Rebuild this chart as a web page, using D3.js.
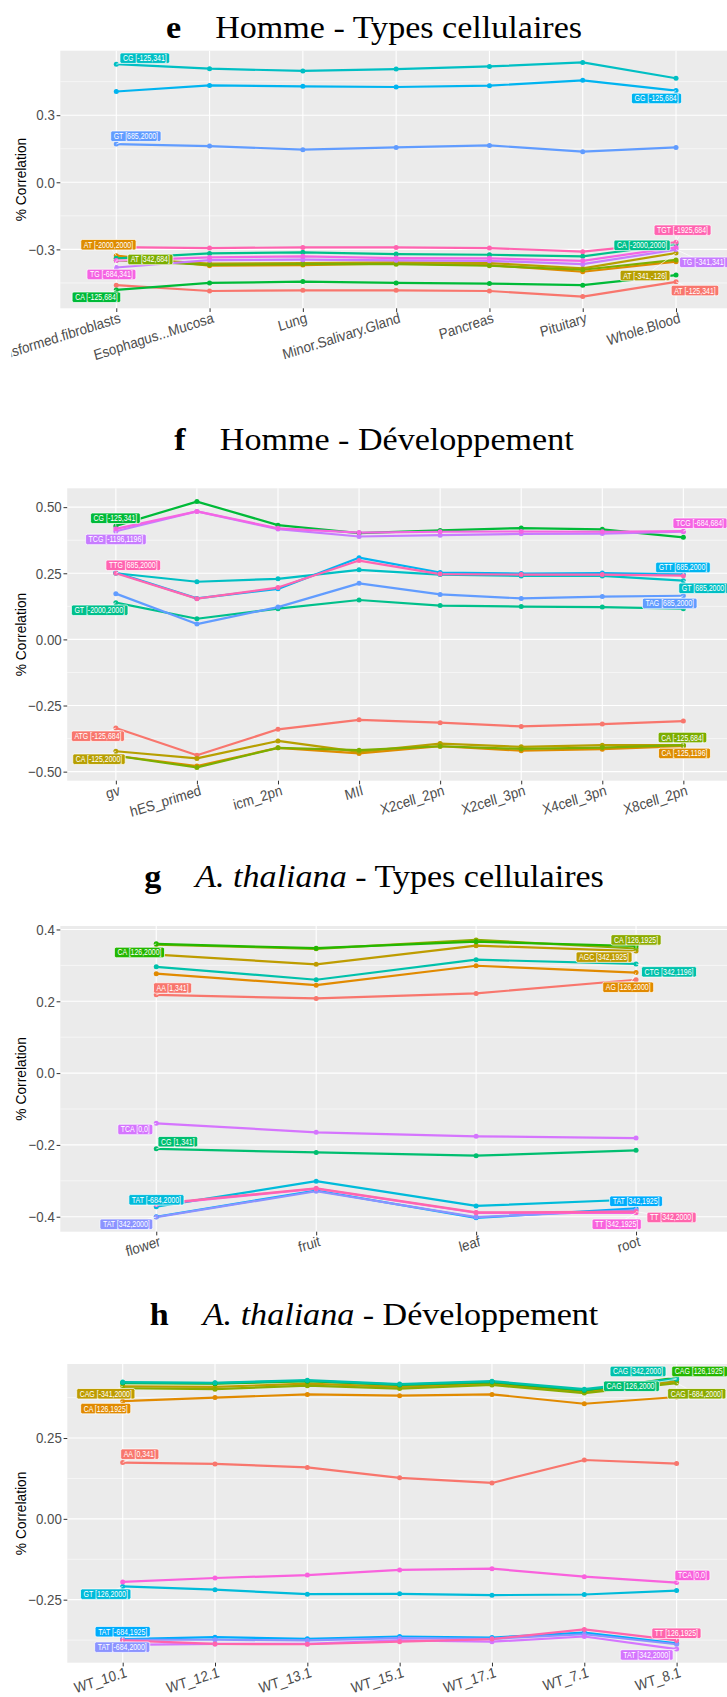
<!DOCTYPE html>
<html><head><meta charset="utf-8">
<script src="https://cdn.jsdelivr.net/npm/d3@7"></script>
<style>body{margin:0;background:#fff} svg{display:block} text{white-space:pre}</style>
</head><body><svg id="c" width="727" height="1697"></svg>
<script>
// ---------------- DATA ----------------
const eCategories = ["Cells...Transformed.fibroblasts","Esophagus...Mucosa","Lung","Minor.Salivary.Gland","Pancreas","Pituitary","Whole.Blood"];
const eSeries = ["AT [-125,341]","AT [-2000,2000]","AT [-341,-126]","AT [342,684]","CA [-125,684]","CA [-2000,2000]","CG [-125,341]","GG [-125,684]","GT [685,2000]","TG [-341,341]","TG [-684,341]","TGT [-1925,684]"];
const eValues = [
 [-0.460,-0.486,-0.483,-0.483,-0.486,-0.511,-0.445],
 [-0.328,-0.373,-0.370,-0.363,-0.370,-0.400,-0.355],
 [-0.340,-0.364,-0.361,-0.358,-0.361,-0.385,-0.316],
 [-0.348,-0.369,-0.366,-0.366,-0.373,-0.391,-0.347],
 [-0.481,-0.450,-0.444,-0.450,-0.453,-0.460,-0.415],
 [-0.340,-0.318,-0.313,-0.321,-0.324,-0.331,-0.276],
 [0.528,0.508,0.498,0.506,0.518,0.536,0.465],
 [0.406,0.433,0.429,0.426,0.432,0.456,0.410],
 [0.171,0.162,0.146,0.156,0.165,0.137,0.156],
 [-0.381,-0.348,-0.346,-0.349,-0.351,-0.366,-0.301],
 [-0.350,-0.336,-0.331,-0.339,-0.340,-0.351,-0.291],
 [-0.290,-0.294,-0.291,-0.291,-0.294,-0.310,-0.268]
];
const eTicks = [-0.3, 0, 0.3];

const fCategories = ["gv","hES_primed","icm_2pn","MII","X2cell_2pn","X2cell_3pn","X4cell_3pn","X8cell_2pn"];
const fSeries = ["ATG [-125,684]","CA [-125,1196]","CA [-125,2000]","CA [-125,684]","CG [-125,341]","GT [-2000,2000]","GT [685,2000]","GTT [685,2000]","TAG [685,2000]","TCG [-1196,1196]","TCG [-684,684]","TTG [685,2000]"];
const fValues = [
 [-0.335,-0.438,-0.340,-0.304,-0.315,-0.329,-0.320,-0.309],
 [-0.440,-0.479,-0.410,-0.431,-0.404,-0.421,-0.415,-0.404],
 [-0.423,-0.450,-0.384,-0.425,-0.394,-0.406,-0.400,-0.400],
 [-0.440,-0.484,-0.410,-0.419,-0.404,-0.414,-0.409,-0.400],
 [0.429,0.521,0.432,0.402,0.412,0.421,0.416,0.386],
 [0.139,0.078,0.116,0.149,0.128,0.124,0.122,0.116],
 [0.250,0.218,0.229,0.263,0.245,0.240,0.240,0.222],
 [0.253,0.155,0.191,0.309,0.253,0.249,0.251,0.246],
 [0.173,0.058,0.122,0.212,0.170,0.155,0.162,0.165],
 [0.409,0.484,0.417,0.389,0.394,0.399,0.400,0.407],
 [0.418,0.484,0.420,0.404,0.407,0.408,0.407,0.409],
 [0.250,0.154,0.196,0.298,0.247,0.245,0.245,0.241]
];
const fTicks = [-0.5, -0.25, 0, 0.25, 0.5];

const gCategories = ["flower","fruit","leaf","root"];
const gSeries = ["AA [1,341]","AG [126,2000]","AGC [342,1925]","CA [126,1925]","CA [126,2000]","CG [1,341]","CTG [342,1196]","TAT [-684,2000]","TAT [342,1925]","TAT [342,2000]","TCA [0,0]","TT [342,1925]","TT [342,2000]"];
const gValues = [
 [0.218,0.208,0.222,0.260],
 [0.277,0.245,0.299,0.280],
 [0.330,0.303,0.355,0.340],
 [0.358,0.346,0.371,0.347],
 [0.360,0.348,0.366,0.354],
 [-0.211,-0.221,-0.230,-0.215],
 [0.296,0.260,0.316,0.304],
 [-0.372,-0.301,-0.370,-0.352],
 [-0.400,-0.327,-0.403,-0.377],
 [-0.401,-0.329,-0.401,-0.382],
 [-0.140,-0.165,-0.176,-0.181],
 [-0.366,-0.322,-0.389,-0.389],
 [-0.364,-0.321,-0.388,-0.386]
];
const gTicks = [-0.4, -0.2, 0, 0.2, 0.4];

const hCategories = ["WT_10.1","WT_12.1","WT_13.1","WT_15.1","WT_17.1","WT_7.1","WT_8.1"];
const hSeries = ["AA [0,341]","CA [126,1925]","CAG [-341,2000]","CAG [-684,2000]","CAG [126,1925]","CAG [126,2000]","CAG [342,2000]","GT [126,2000]","TAT [-684,1925]","TAT [-684,2000]","TAT [342,2000]","TCA [0,0]","TT [126,1925]"];
const hValues = [
 [0.174,0.170,0.159,0.127,0.111,0.182,0.171],
 [0.364,0.375,0.385,0.381,0.385,0.356,0.377],
 [0.410,0.408,0.418,0.408,0.418,0.393,0.425],
 [0.404,0.401,0.412,0.403,0.414,0.389,0.420],
 [0.420,0.418,0.426,0.414,0.423,0.397,0.437],
 [0.421,0.420,0.427,0.415,0.424,0.398,0.432],
 [0.423,0.421,0.429,0.417,0.426,0.401,0.434],
 [-0.209,-0.219,-0.233,-0.232,-0.236,-0.234,-0.222],
 [-0.372,-0.366,-0.371,-0.364,-0.367,-0.352,-0.385],
 [-0.374,-0.374,-0.376,-0.369,-0.371,-0.357,-0.388],
 [-0.390,-0.387,-0.387,-0.376,-0.380,-0.364,-0.403],
 [-0.195,-0.183,-0.174,-0.158,-0.154,-0.179,-0.197],
 [-0.376,-0.387,-0.388,-0.380,-0.372,-0.342,-0.376]
];
const hTicks = [-0.25, 0, 0.25];

// ---------------- STYLE / LAYOUT ----------------
const pal12 = ["#F8766D","#DE8C00","#B79F00","#7CAE00","#00BA38","#00C08B","#00BFC4","#00B4F0","#619CFF","#C77CFF","#F564E3","#FF64B0"];
const pal13 = ["#F8766D","#E18A00","#BE9C00","#8CAB00","#24B700","#00BE70","#00C1AB","#00BBDA","#00ACFC","#8B93FF","#D575FE","#F962DD","#FF65AC"];

// repel label placements: [series, category position (fractional index), value]
const eLabelPos = [
 ["CG [-125,341]",0.306,0.555],["GG [-125,684]",5.791,0.375],["GT [685,2000]",0.210,0.206],
 ["AT [-2000,2000]",-0.084,-0.279],["AT [342,684]",0.365,-0.345],["TG [-684,341]",-0.052,-0.412],
 ["CA [-125,684]",-0.213,-0.514],["TGT [-1925,684]",6.070,-0.214],["CA [-2000,2000]",5.636,-0.282],
 ["TG [-341,341]",6.30,-0.358],["AT [-341,-126]",5.668,-0.417],["AT [-125,341]",6.203,-0.484]
];
const fLabelPos = [
 ["CG [-125,341]",-0.005,0.458],["TCG [-1196,1196]",0.001,0.378],["TTG [685,2000]",0.215,0.280],
 ["GT [-2000,2000]",-0.199,0.110],["TCG [-684,684]",7.205,0.439],["GTT [685,2000]",6.995,0.272],
 ["GT [685,2000]",7.254,0.193],["TAG [685,2000]",6.832,0.136],["ATG [-125,684]",-0.221,-0.366],
 ["CA [-125,2000]",-0.208,-0.453],["CA [-125,684]",6.989,-0.371],["CA [-125,1196]",7.014,-0.431]
];
const gLabelPos = [
 ["CA [126,2000]",-0.105,0.336],["AA [1,341]",0.102,0.237],["TCA [0,0]",-0.131,-0.157],
 ["CG [1,341]",0.135,-0.191],["TAT [-684,2000]",0.001,-0.353],["TAT [342,2000]",-0.187,-0.421],
 ["CA [126,1925]",3.0,0.371],["AGC [342,1925]",2.800,0.323],["CTG [342,1196]",3.206,0.282],
 ["AG [126,2000]",2.951,0.239],["TAT [342,1925]",3.0,-0.357],["TT [342,2000]",3.222,-0.402],
 ["TT [342,1925]",2.879,-0.421]
];
const hLabelPos = [
 ["CAG [-341,2000]",-0.183,0.387],["CA [126,1925]",-0.184,0.341],["AA [0,341]",0.185,0.200],
 ["GT [126,2000]",-0.184,-0.233],["TAT [-684,1925]",0.0,-0.349],["TAT [-684,2000]",-0.005,-0.397],
 ["CAG [342,2000]",5.582,0.456],["CAG [126,1925]",6.250,0.456],["CAG [126,2000]",5.511,0.410],
 ["CAG [-684,2000]",6.218,0.387],["TCA [0,0]",6.171,-0.175],["TT [126,1925]",5.998,-0.354],
 ["TAT [342,2000]",5.676,-0.421]
];

const SQ = 0.9;               // horizontal squeeze of axis text in the source raster
const SQL = 0.83;             // squeeze of label text
const PANEL_RIGHT = 732;
const SANS = "'Liberation Sans', Arial, sans-serif";
const SERIF = "'Liberation Serif', 'Times New Roman', serif";

const panels = [
 {cats:eCategories, names:eSeries, vals:eValues, ticks:eTicks, fmt:".1f", pal:pal12, labels:eLabelPos,
  lay:{top:50.7,bottom:308.3,left:60.3,titleY:37.7}, letter:"e", title:[{t:"Homme - Types cellulaires"}]},
 {cats:fCategories, names:fSeries, vals:fValues, ticks:fTicks, fmt:".2f", pal:pal12, labels:fLabelPos,
  lay:{top:488.3,bottom:780.7,left:67.2,titleY:450}, letter:"f", title:[{t:"Homme - Développement"}]},
 {cats:gCategories, names:gSeries, vals:gValues, ticks:gTicks, fmt:".1f", pal:pal13, labels:gLabelPos,
  lay:{top:926,bottom:1231.7,left:60.3,titleY:886.7}, letter:"g", title:[{t:"A. thaliana",it:true},{t:" - Types cellulaires"}]},
 {cats:hCategories, names:hSeries, vals:hValues, ticks:hTicks, fmt:".2f", pal:pal13, labels:hLabelPos,
  lay:{top:1364,bottom:1662.7,left:67.3,titleY:1325}, letter:"h", title:[{t:"A. thaliana",it:true},{t:" - Développement"}]}
];

// ---------------- DRAW ----------------
const svg = d3.select("#c");
svg.append("rect").attr("width",727).attr("height",1697).attr("fill","#fff");
svg.append("defs").append("clipPath").attr("id","dev").append("rect").attr("x",11.5).attr("y",0).attr("width",716).attr("height",1697);
const root = svg.append("g").attr("clip-path","url(#dev)");

panels.forEach(p => drawPanel(p));

function drawPanel(cfg){
  const {cats, names, vals, ticks, fmt, pal, labels, lay, letter, title} = cfg;
  const g = root.append("g");
  const x = d3.scalePoint().domain(cats).range([lay.left, PANEL_RIGHT]).padding(0.6);
  const [mn, mx] = d3.extent(vals.flat());
  const pad = (mx - mn) * 0.05;
  const y = d3.scaleLinear().domain([mn - pad, mx + pad]).range([lay.bottom, lay.top]);

  // title
  const t = g.append("text").attr("font-family", SERIF).attr("font-size", 32).attr("fill", "#000")
    .attr("text-anchor","middle").attr("transform", `translate(374,${lay.titleY}) scale(1.065,1)`);
  t.append("tspan").attr("font-weight","bold").text(letter);
  title.forEach((pt,k) => {
    const s = t.append("tspan").text(pt.t);
    if (k === 0) s.attr("dx","1em");
    if (pt.it) s.attr("font-style","italic");
  });

  // panel background + grid
  g.append("rect").attr("x",lay.left).attr("y",lay.top).attr("width",PANEL_RIGHT-lay.left)
    .attr("height",lay.bottom-lay.top).attr("fill","#EBEBEB");
  const step = ticks[1]-ticks[0];
  const [d0,d1] = y.domain();
  const minors = [];
  for (let m = ticks[0]-step/2; m <= d1; m += step) if (m >= d0) minors.push(m);
  g.selectAll(".minor").data(minors).join("line").attr("x1",lay.left).attr("x2",PANEL_RIGHT)
    .attr("y1",d=>y(d)).attr("y2",d=>y(d)).attr("stroke","#fff").attr("stroke-width",0.55);
  g.selectAll(".majY").data(ticks).join("line").attr("x1",lay.left).attr("x2",PANEL_RIGHT)
    .attr("y1",d=>y(d)).attr("y2",d=>y(d)).attr("stroke","#fff").attr("stroke-width",1.1);
  g.selectAll(".majX").data(cats).join("line").attr("y1",lay.top).attr("y2",lay.bottom)
    .attr("x1",d=>x(d)).attr("x2",d=>x(d)).attr("stroke","#fff").attr("stroke-width",1.1);

  // axes
  const ya = g.append("g").attr("transform",`translate(${lay.left},0)`)
    .call(d3.axisLeft(y).tickValues(ticks).tickFormat(d3.format(fmt)).tickSize(3.7).tickPadding(2));
  ya.select(".domain").remove();
  ya.selectAll("line").attr("stroke","#333").attr("stroke-width",1);
  ya.selectAll("text").attr("x",null).attr("fill","#4D4D4D").attr("font-size",14.8).attr("font-family",SANS)
    .attr("transform",`translate(-5.5,0) scale(${SQ},1)`);

  const xa = g.append("g").attr("transform",`translate(0,${lay.bottom})`)
    .call(d3.axisBottom(x).tickSize(3.7));
  xa.select(".domain").remove();
  xa.selectAll("line").attr("stroke","#333").attr("stroke-width",1);
  xa.selectAll("text").attr("y",null).attr("dy",null).attr("text-anchor","end")
    .attr("fill","#4D4D4D").attr("font-size",14.8).attr("font-family",SANS)
    .attr("transform",`translate(4.5,14) scale(${SQ},1) rotate(-16)`);

  // y title
  g.append("text").text("% Correlation").attr("font-family",SANS).attr("font-size",13.8).attr("fill","#000")
    .attr("text-anchor","middle").attr("dy","0.36em")
    .attr("transform",`translate(21.5,${(lay.top+lay.bottom)/2}) rotate(-90)`);

  // lines and points
  const line = d3.line().x((d,i)=>x(cats[i])).y(d=>y(d));
  g.append("g").selectAll("path").data(vals).join("path")
    .attr("d", line).attr("fill","none").attr("stroke",(d,i)=>pal[i]).attr("stroke-width",2.2)
    .attr("stroke-linejoin","round");
  const pts = g.append("g");
  vals.forEach((s,si) => {
    pts.selectAll(null).data(s).join("circle").attr("cx",(d,i)=>x(cats[i])).attr("cy",d=>y(d))
      .attr("r",2.5).attr("fill",pal[si]);
  });

  // repel-style labels
  const segG = g.append("g"), labG = g.append("g");
  const n = cats.length;
  labels.forEach(([name, fi, v]) => {
    const si = names.indexOf(name);
    const idx = fi < (n-1)/2 ? 0 : n-1;
    const px = x(cats[idx]), py = y(vals[si][idx]);
    const cx = x(cats[0]) + fi * x.step(), cy = y(v);
    const lg = labG.append("g");
    const tx = lg.append("text").text(name).attr("font-family",SANS).attr("font-size",8.4)
      .attr("fill","#fff").attr("text-anchor","middle")
      .attr("transform",`translate(${cx},${cy+3}) scale(${SQL},1)`);
    const w = tx.node().getComputedTextLength()*SQL + 6, h = 10.5;
    lg.insert("rect","text").attr("x",cx-w/2).attr("y",cy-h/2).attr("width",w).attr("height",h)
      .attr("rx",1.8).attr("fill",pal[si]).attr("stroke","#fff").attr("stroke-width",0.7);
    if (Math.abs(px-cx) > w/2 + 1 || Math.abs(py-cy) > h/2 + 1) {
      segG.append("line").attr("x1",cx).attr("y1",cy).attr("x2",px).attr("y2",py)
        .attr("stroke","#fff").attr("stroke-width",0.7);
    }
  });
}
</script></body></html>
